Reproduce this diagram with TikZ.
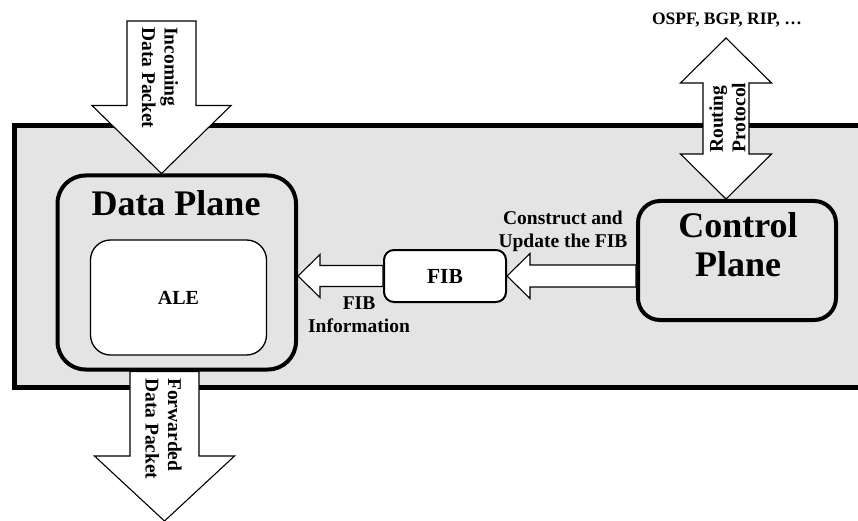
\documentclass[tikz,border=0pt]{standalone}
\usepackage{fontspec}
\setmainfont{Liberation Serif}
\usetikzlibrary{positioning, calc}
\definecolor{rtgray}{HTML}{E4E4E4}
\tikzstyle{plane}=[rectangle, draw, line width=4pt, fill=rtgray]
\tikzstyle{block}=[rectangle, draw, fill=white, font=\fontsize{20}{24}\selectfont\bfseries]
\tikzstyle{fatarrow}=[draw, line width=1.1pt, fill=white]
\tikzstyle{title}=[font=\fontsize{36}{39}\selectfont\bfseries, align=center, inner sep=0pt]
\tikzstyle{lbl}=[font=\fontsize{19.5}{22.5}\selectfont\bfseries, align=center, inner sep=0pt]
\newcommand{\fatarrow}[5]{%
  \coordinate (fa-h) at ($(#2)!#5!(#1)$);
  \draw[fatarrow] ($(#1)!#3!90:(#2)$) -- ($(fa-h)!#3!90:(#2)$) -- ($(fa-h)!#4!90:(#2)$)
    -- (#2) -- ($(fa-h)!#4!-90:(#2)$) -- ($(fa-h)!#3!-90:(#2)$) -- ($(#1)!#3!-90:(#2)$) -- cycle;}
\newcommand{\dblarrow}[5]{%
  \coordinate (da-a) at ($(#1)!#5!(#2)$);
  \coordinate (da-b) at ($(#2)!#5!(#1)$);
  \draw[fatarrow] (#1) -- ($(da-a)!#4!90:(#2)$) -- ($(da-a)!#3!90:(#2)$) -- ($(da-b)!#3!90:(#2)$)
    -- ($(da-b)!#4!90:(#2)$) -- (#2) -- ($(da-b)!#4!-90:(#2)$) -- ($(da-b)!#3!-90:(#2)$)
    -- ($(da-a)!#3!-90:(#2)$) -- ($(da-a)!#4!-90:(#2)$) -- cycle;}

\begin{document}
\begin{tikzpicture}[x=1pt, y=-1pt]
    \useasboundingbox (0,0) rectangle (858,521);
    \draw[line width=5pt, fill=rtgray] (14,125.5) rectangle (880,387.5);

    \node[plane, rounded corners=28pt, minimum width=238.5pt, minimum height=194pt] (dp) at (176.75,272.5) {};
    \node[title, anchor=base] (dptitle) at (176,215) {Data Plane};
    \node[block, line width=1.3pt, rounded corners=20pt, minimum width=176pt, minimum height=115pt] (ale) at (178.5,297.5) {ALE};
    \node[block, line width=2pt, rounded corners=10pt, minimum width=122pt, minimum height=52pt, font=\fontsize{21.5}{24}\selectfont\bfseries] (fib) at (445,276) {FIB};
    \node[plane, rounded corners=22pt, minimum width=198pt, minimum height=119pt] (cp) at (737,260.5) {};
    \node[title, anchor=base] (cptitle) at (738,276) {Control\\Plane};

    \node[lbl, anchor=base] (fibinfo) at (359,332) {FIB\\Information};
    \node[lbl, anchor=base] (cpupd) at (563,247) {Construct and\\Update the FIB};
    \node[lbl, anchor=base, font=\fontsize{17.5}{20}\selectfont\bfseries] (protos) at (727,25) {OSPF, BGP, RIP, \ldots};

    \coordinate (inTail) at (161.5,21);
    \coordinate (inTip) at (inTail |- dp.north);
    \coordinate (fwTip) at (164.5,521);
    \coordinate (fwTail) at (dp.south -| fwTip);
    \coordinate (rpTop) at (726,38);
    \coordinate (rpBot) at (rpTop |- cp.north);
    \coordinate (cpOut) at (cp.west |- fib.east);
    \coordinate (dpIn) at (dp.east |- fib.west);

    \fatarrow{inTail}{inTip}{34.5pt}{69.5pt}{68pt}
    \fatarrow{fwTail}{fwTip}{34.5pt}{70pt}{65pt}
    \dblarrow{rpTop}{rpBot}{23pt}{45.5pt}{45pt}
    \fatarrow{cpOut}{fib.east}{11pt}{22.5pt}{23pt}
    \fatarrow{fib.west}{dpIn}{10.5pt}{21.5pt}{22pt}

    \node[lbl, rotate=-90, anchor=west, align=left] (inLbl) at (160,27) {Incoming\\Data Packet};
    \node[lbl, rotate=-90, anchor=west, align=left] (fwLbl) at (163.5,378) {Forwarded\\Data Packet};
    \node[lbl, rotate=90, anchor=west, align=left] (rpLbl) at (727.5,153) {Routing\\Protocol};
\end{tikzpicture}
\end{document}
